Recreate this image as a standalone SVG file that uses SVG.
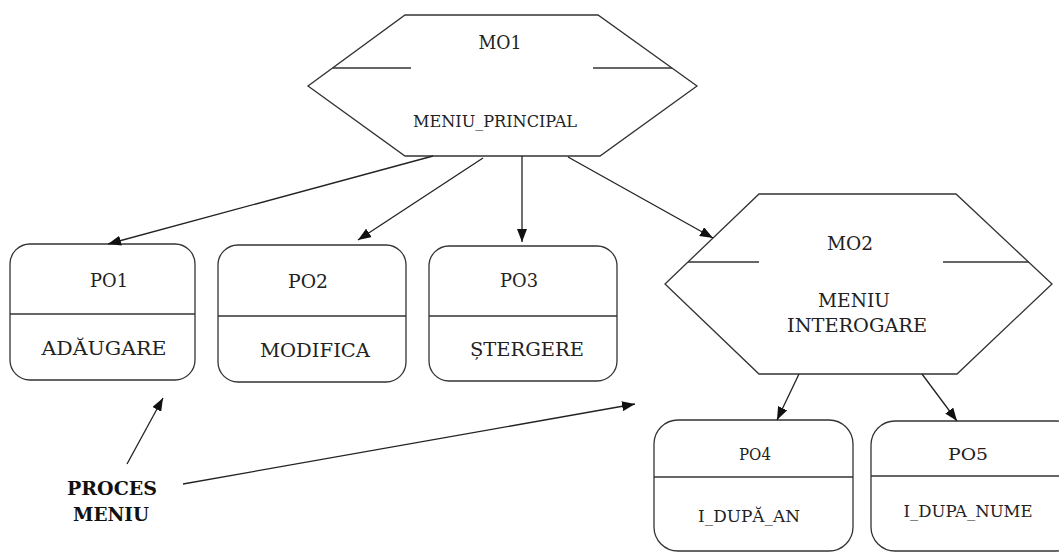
<svg xmlns="http://www.w3.org/2000/svg" width="1059" height="554" viewBox="0 0 1059 554">
<style>
.s{fill:#fff;stroke:#333;stroke-width:1.3}
.l{stroke:#333;stroke-width:1.3;fill:none}
.t{font-family:'DejaVu Serif','Liberation Serif',serif;fill:#222;text-anchor:middle}
.b{font-family:'DejaVu Serif','Liberation Serif',serif;fill:#111;text-anchor:middle;font-weight:bold}
.c{stroke:#222;stroke-width:1.3;fill:none;marker-end:url(#ah)}
</style>
<defs>
<marker id="ah" markerUnits="userSpaceOnUse" markerWidth="14" markerHeight="10" refX="13" refY="5" orient="auto">
<path d="M0,0 L13,5 L0,10 Z" fill="#111"/>
</marker>
</defs>
<rect width="1059" height="554" fill="#fff"/>
<g id="MO1">
<polygon class="s" points="405,15 598,15 697,86 600,156 405,156 308,86"/>
<line class="l" x1="333" y1="68" x2="411" y2="68"/>
<line class="l" x1="593" y1="68" x2="672" y2="68"/>
<text class="t" x="500" y="49" font-size="18" textLength="43" lengthAdjust="spacingAndGlyphs">MO1</text>
<text class="t" x="495" y="127" font-size="16" textLength="164" lengthAdjust="spacingAndGlyphs">MENIU_PRINCIPAL</text>
</g>
<g id="PO1">
<rect class="s" x="10" y="244" width="185" height="136" rx="20"/>
<line class="l" x1="10" y1="314" x2="195" y2="314"/>
<text class="t" x="109" y="287" font-size="18" textLength="38" lengthAdjust="spacingAndGlyphs">PO1</text>
<text class="t" x="104" y="355" font-size="18" textLength="125" lengthAdjust="spacingAndGlyphs">ADĂUGARE</text>
</g>
<g id="PO2">
<rect class="s" x="218" y="245" width="188" height="137" rx="20"/>
<line class="l" x1="218" y1="316" x2="406" y2="316"/>
<text class="t" x="308" y="288" font-size="18" textLength="40" lengthAdjust="spacingAndGlyphs">PO2</text>
<text class="t" x="315" y="357" font-size="18" textLength="110" lengthAdjust="spacingAndGlyphs">MODIFICA</text>
</g>
<g id="PO3">
<rect class="s" x="429" y="246" width="188" height="135" rx="20"/>
<line class="l" x1="429" y1="316" x2="617" y2="316"/>
<text class="t" x="519" y="287" font-size="18" textLength="38" lengthAdjust="spacingAndGlyphs">PO3</text>
<text class="t" x="527" y="356" font-size="18" textLength="114" lengthAdjust="spacingAndGlyphs">ȘTERGERE</text>
</g>
<g id="MO2">
<polygon class="s" points="759,194 956,194 1052,284 957,374 759,374 665,284"/>
<line class="l" x1="688" y1="262" x2="759" y2="262"/>
<line class="l" x1="943" y1="262" x2="1029" y2="262"/>
<text class="t" x="850" y="250" font-size="18" textLength="46" lengthAdjust="spacingAndGlyphs">MO2</text>
<text class="t" x="854" y="307" font-size="18" textLength="72" lengthAdjust="spacingAndGlyphs">MENIU</text>
<text class="t" x="857" y="332" font-size="18" textLength="140" lengthAdjust="spacingAndGlyphs">INTEROGARE</text>
</g>
<g id="PO4">
<rect class="s" x="654" y="420" width="199" height="131" rx="24"/>
<line class="l" x1="654" y1="477" x2="853" y2="477"/>
<text class="t" x="755" y="460" font-size="17" textLength="32" lengthAdjust="spacingAndGlyphs">PO4</text>
<text class="t" x="749" y="522" font-size="16" textLength="102" lengthAdjust="spacingAndGlyphs">I_DUPĂ_AN</text>
</g>
<g id="PO5">
<rect class="s" x="871" y="421" width="210" height="130" rx="24"/>
<line class="l" x1="871" y1="476" x2="1059" y2="476"/>
<text class="t" x="968" y="460" font-size="17" textLength="40" lengthAdjust="spacingAndGlyphs">PO5</text>
<text class="t" x="968" y="517" font-size="16" textLength="129" lengthAdjust="spacingAndGlyphs">I_DUPA_NUME</text>
</g>
<g id="PROCES">
<text class="b" x="112" y="495" font-size="18" textLength="90" lengthAdjust="spacingAndGlyphs">PROCES</text>
<text class="b" x="111" y="521" font-size="18" textLength="76" lengthAdjust="spacingAndGlyphs">MENIU</text>
</g>
<g id="connectors">
<line class="c" x1="433" y1="156" x2="108" y2="244"/>
<line class="c" x1="483" y1="158" x2="358" y2="240"/>
<line class="c" x1="522" y1="156" x2="522" y2="242"/>
<line class="c" x1="568" y1="157" x2="713" y2="238"/>
<line class="c" x1="799" y1="374" x2="777" y2="420"/>
<line class="c" x1="922" y1="374" x2="957" y2="421"/>
<line class="c" x1="127" y1="464" x2="163" y2="398"/>
<line class="c" x1="183" y1="484" x2="635" y2="404"/>
</g>
</svg>
